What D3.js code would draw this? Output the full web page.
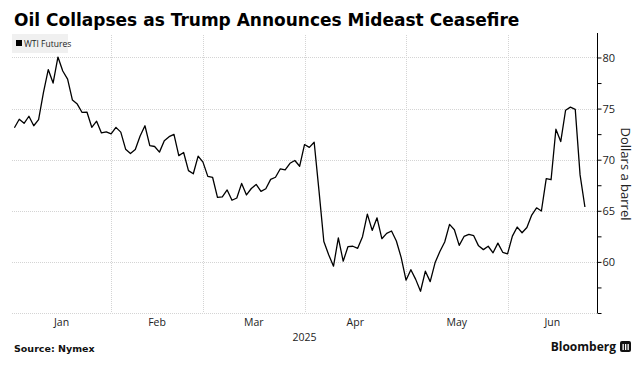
<!DOCTYPE html>
<html>
<head>
<meta charset="utf-8">
<script src="https://cdn.jsdelivr.net/npm/d3@7"></script>
<style>
  body { margin: 0; background: #fff; }
  svg { display: block; font-family: "Open Sans", "Noto Sans", sans-serif; }
</style>
</head>
<body>
<svg id="chart" width="638" height="365"></svg>
<script>
// WTI futures settle, 2025 (trading days)
var dates = ["2025-01-02","2025-01-03","2025-01-06","2025-01-07","2025-01-08","2025-01-09","2025-01-10",
  "2025-01-13","2025-01-14","2025-01-15","2025-01-16","2025-01-17","2025-01-21","2025-01-22","2025-01-23",
  "2025-01-24","2025-01-27","2025-01-28","2025-01-29","2025-01-30","2025-01-31","2025-02-03","2025-02-04",
  "2025-02-05","2025-02-06","2025-02-07","2025-02-10","2025-02-11","2025-02-12","2025-02-13","2025-02-14",
  "2025-02-18","2025-02-19","2025-02-20","2025-02-21","2025-02-24","2025-02-25","2025-02-26","2025-02-27",
  "2025-02-28","2025-03-03","2025-03-04","2025-03-05","2025-03-06","2025-03-07","2025-03-10","2025-03-11",
  "2025-03-12","2025-03-13","2025-03-14","2025-03-17","2025-03-18","2025-03-19","2025-03-20","2025-03-21",
  "2025-03-24","2025-03-25","2025-03-26","2025-03-27","2025-03-28","2025-03-31","2025-04-01","2025-04-02",
  "2025-04-03","2025-04-04","2025-04-07","2025-04-08","2025-04-09","2025-04-10","2025-04-11","2025-04-14",
  "2025-04-15","2025-04-16","2025-04-17","2025-04-21","2025-04-22","2025-04-23","2025-04-24","2025-04-25",
  "2025-04-28","2025-04-29","2025-04-30","2025-05-01","2025-05-02","2025-05-05","2025-05-06","2025-05-07",
  "2025-05-08","2025-05-09","2025-05-12","2025-05-13","2025-05-14","2025-05-15","2025-05-16","2025-05-19",
  "2025-05-20","2025-05-21","2025-05-22","2025-05-23","2025-05-27","2025-05-28","2025-05-29","2025-05-30",
  "2025-06-02","2025-06-03","2025-06-04","2025-06-05","2025-06-06","2025-06-09","2025-06-10","2025-06-11",
  "2025-06-12","2025-06-13","2025-06-16","2025-06-17","2025-06-18","2025-06-20","2025-06-23","2025-06-24"];
var prices = [73.13,73.96,73.56,74.25,73.32,73.92,76.57,
  78.82,77.50,80.04,78.68,77.88,75.83,75.44,74.62,
  74.66,73.17,73.77,72.62,72.73,72.53,73.16,72.70,
  71.03,70.61,71.00,72.32,73.32,71.37,71.29,70.74,
  71.85,72.25,72.48,70.40,70.70,68.93,68.62,70.35,
  69.76,68.37,68.26,66.31,66.36,67.04,66.03,66.25,
  67.68,66.55,67.18,67.58,66.90,67.16,68.07,68.28,
  69.11,69.00,69.65,69.92,69.36,71.48,71.20,71.71,
  66.95,61.99,60.70,59.58,62.35,60.07,61.50,61.53,
  61.33,62.47,64.68,63.08,64.31,62.27,62.79,63.02,
  62.05,60.42,58.21,59.24,58.29,57.13,59.09,58.07,
  59.91,61.02,61.95,63.67,63.15,61.62,62.49,62.69,
  62.56,61.57,61.20,61.53,60.89,61.84,60.94,60.79,
  62.52,63.41,62.85,63.37,64.58,65.29,64.98,68.15,
  68.04,72.98,71.77,74.84,75.14,74.93,68.51,65.37];
var months = ["2025-01","2025-02","2025-03","2025-04","2025-05","2025-06"];
var monthLabels = ["Jan","Feb","Mar","Apr","May","Jun"];
var yTicks = [60, 65, 70, 75, 80];

var parse = d3.utcParse("%Y-%m-%d");
var data = dates.map(function(d, i) { return { i: i, date: parse(d), value: prices[i] }; });

var svg = d3.select("#chart");
var plotLeft = 12, plotRight = 597, plotTop = 35, plotBottom = 313;

// trading-day axis
var x = d3.scaleLinear().domain([-0.5, 120.5]).range([plotLeft, plotRight]);
var y = d3.scaleLinear().domain([55, 82.2]).range([plotBottom, plotTop]);

// index of last trading day in each month
var monthEnd = months.map(function(m) {
  var idx = -1;
  dates.forEach(function(d, i) { if (d.slice(0, 7) === m) idx = i; });
  return idx;
});

// title
svg.append("text")
    .attr("x", 14).attr("y", 26)
    .attr("font-size", 17).attr("font-weight", "bold")
    .attr("font-family", "'DejaVu Sans', sans-serif")
    .attr("fill", "#000")
    .text("Oil Collapses as Trump Announces Mideast Ceasefire");

// grid
var grid = svg.append("g").attr("stroke", "#d4d4d4").attr("stroke-width", 1).attr("stroke-dasharray", "1,1");
grid.selectAll(".hg").data([55].concat(yTicks)).enter().append("line")
    .attr("x1", plotLeft).attr("x2", plotRight)
    .attr("y1", function(d) { return Math.round(y(d)) + 0.5; })
    .attr("y2", function(d) { return Math.round(y(d)) + 0.5; });
grid.selectAll(".vg").data(monthEnd.slice(0, 5)).enter().append("line")
    .attr("y1", plotTop).attr("y2", plotBottom)
    .attr("x1", function(d) { return Math.round(x(d)) + 0.5; })
    .attr("x2", function(d) { return Math.round(x(d)) + 0.5; });

// legend
var lg = svg.append("g");
lg.append("rect").attr("x", 12).attr("y", 34).attr("width", 56).attr("height", 19).attr("fill", "#f0f0f0");
lg.append("rect").attr("x", 16).attr("y", 40).attr("width", 6).attr("height", 6).attr("fill", "#000");
lg.append("text").attr("x", 24).attr("y", 47).attr("font-size", 8.5).attr("fill", "#222").text("WTI Futures");

// line
var line = d3.line()
    .x(function(d) { return x(d.i); })
    .y(function(d) { return y(d.value); });
svg.append("path").datum(data)
    .attr("fill", "none").attr("stroke", "#000").attr("stroke-width", 1.3)
    .attr("stroke-linejoin", "round")
    .attr("d", line);

// y axis on right
var yAxis = d3.axisRight(y)
    .tickValues(d3.range(55, 82.1, 2.5))
    .tickSize(4)
    .tickFormat(function(d) { return yTicks.indexOf(d) >= 0 ? d : ""; });
var ya = svg.append("g").attr("transform", "translate(" + (plotRight + 0.5) + ",0)").call(yAxis);
ya.select(".domain").attr("stroke", "#000").attr("d", "M0," + (plotTop - 2) + "V" + plotBottom);
ya.selectAll(".tick line").attr("stroke", "#000");
ya.selectAll(".tick text").attr("x", 5).attr("font-size", 11).attr("fill", "#222")
    .attr("font-family", "'Open Sans', sans-serif");

svg.append("text")
    .attr("transform", "translate(621," + ((plotTop + plotBottom) / 2) + ") rotate(90)")
    .attr("text-anchor", "middle")
    .attr("font-size", 13).attr("fill", "#222")
    .text("Dollars a barrel");

// x labels centred in the visible part of each month
var xa = svg.append("g");
xa.selectAll("text").data(months).enter().append("text")
    .attr("x", function(d, i) {
      var a = i === 0 ? x.domain()[0] : monthEnd[i - 1];
      var b = i === months.length - 1 ? x.domain()[1] : monthEnd[i];
      return x((a + b) / 2);
    })
    .attr("y", 326)
    .attr("text-anchor", "middle").attr("font-size", 10.5).attr("fill", "#222")
    .text(function(d, i) { return monthLabels[i]; });
svg.append("text")
    .attr("x", x(monthEnd[2])).attr("y", 341)
    .attr("text-anchor", "middle").attr("font-size", 10.5).attr("fill", "#222")
    .text("2025");

// footer
svg.append("text")
    .attr("x", 14).attr("y", 352)
    .attr("font-size", 9.5).attr("font-weight", "bold").attr("fill", "#111")
    .attr("font-family", "'DejaVu Sans', sans-serif")
    .text("Source: Nymex");
svg.append("text")
    .attr("x", 616).attr("y", 351)
    .attr("text-anchor", "end")
    .attr("font-size", 12).attr("font-weight", "bold").attr("fill", "#111")
    .text("Bloomberg");
var icon = svg.append("g").attr("transform", "translate(620,341)");
icon.append("rect").attr("width", 11).attr("height", 11).attr("rx", 2).attr("fill", "#111");
icon.selectAll(".b").data([2, 4.5, 7]).enter().append("rect")
    .attr("x", function(d) { return d + 0.5; }).attr("y", 3).attr("width", 1.3).attr("height", 6).attr("fill", "#fff");
</script>
</body>
</html>
